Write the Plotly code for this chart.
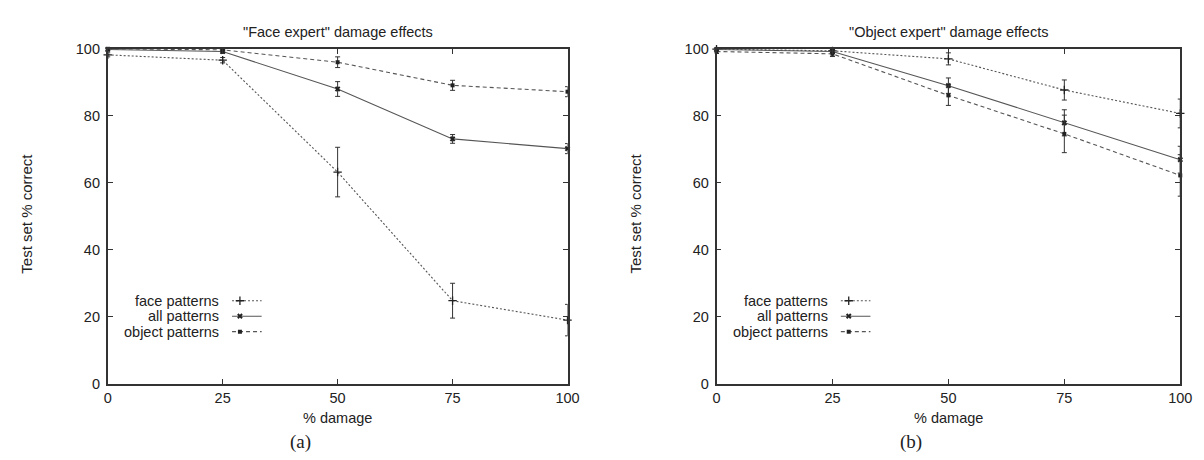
import plotly.graph_objects as go

# ---------------- data ----------------
damage = [0, 25, 50, 75, 100]
x_ticks = [0, 25, 50, 75, 100]
y_ticks = [0, 20, 40, 60, 80, 100]

series_names = ["face patterns", "all patterns", "object patterns"]

# "Face expert" damage effects
face_a = [98.2, 96.6, 63.2, 24.8, 19.0]
face_a_err = [0.6, 0.8, 7.4, 5.2, 4.7]
all_a = [99.8, 99.2, 88.0, 73.1, 70.2]
all_a_err = [0.3, 0.5, 2.2, 1.3, 1.5]
obj_a = [100.0, 99.7, 96.0, 89.1, 87.2]
obj_a_err = [0.2, 0.4, 1.6, 1.5, 1.5]

# "Object expert" damage effects
face_b = [99.9, 99.4, 97.0, 87.7, 80.7]
face_b_err = [0.3, 0.5, 1.8, 3.0, 4.3]
all_b = [99.8, 99.2, 89.0, 77.9, 66.9]
all_b_err = [0.4, 0.6, 2.3, 3.9, 4.0]
obj_b = [99.2, 98.5, 86.1, 74.6, 62.2]
obj_b_err = [0.6, 0.8, 3.0, 5.6, 6.2]

titles = ['"Face expert" damage effects', '"Object expert" damage effects']
panel_labels = ["(a)", "(b)"]

# ---------------- styling ----------------
W, H = 1204, 460
FONT = "Liberation Sans, Arial, Helvetica, sans-serif"
SERIF = "Liberation Serif, Times New Roman, serif"
INK = "#222222"
LINE = "#555555"

# plot-area pixel boxes
panels = [dict(x0=97, x1=563), dict(x0=714, x1=1184)]
Y0_PX, Y1_PX = 381, 34

styles = [
    dict(dash="2px,2px", symbol="cross-thin", size=6, mline=1.3),
    dict(dash="solid", symbol="x", size=5, mline=0),
    dict(dash="4px,3px", symbol="square", size=4, mline=0),
]

fig = go.Figure()

data_sets = [
    [(face_a, face_a_err), (all_a, all_a_err), (obj_a, obj_a_err)],
    [(face_b, face_b_err), (all_b, all_b_err), (obj_b, obj_b_err)],
]

for p, sets in enumerate(data_sets):
    xa = "x" if p == 0 else "x2"
    ya = "y" if p == 0 else "y2"
    for s, (vals, errs) in enumerate(sets):
        st = styles[s]
        fig.add_trace(go.Scatter(
            x=damage, y=vals, xaxis=xa, yaxis=ya,
            mode="lines+markers",
            line=dict(color=LINE, width=1.1, dash=st["dash"]),
            marker=dict(symbol=st["symbol"], size=st["size"], color="#222",
                        line=dict(color="#222", width=st["mline"])),
            error_y=dict(type="data", array=errs, visible=True,
                         color="#333", thickness=1, width=2.5),
            cliponaxis=False, showlegend=False, name=series_names[s],
        ))

# manual gnuplot-style legend (text right-aligned, key sample to the right)
LEG_ROWS_PX = [295, 311, 327]
LEG_TEXT_RIGHT_PX = 115
LEG_LINE_PX = (126, 156)
LEG_MARK_PX = 134

annotations = []
for p, box in enumerate(panels):
    xa = "x" if p == 0 else "x2"
    ya = "y" if p == 0 else "y2"
    sx = 100.0 / (box["x1"] - box["x0"])
    sy = 100.0 / (Y0_PX - Y1_PX)
    for s, row in enumerate(LEG_ROWS_PX):
        yv = (Y0_PX - row) * sy
        st = styles[s]
        fig.add_trace(go.Scatter(
            x=[LEG_LINE_PX[0] * sx, LEG_LINE_PX[1] * sx], y=[yv, yv],
            xaxis=xa, yaxis=ya, mode="lines",
            line=dict(color=LINE, width=1.1, dash=st["dash"]),
            showlegend=False, hoverinfo="skip"))
        fig.add_trace(go.Scatter(
            x=[LEG_MARK_PX * sx], y=[yv], xaxis=xa, yaxis=ya, mode="markers",
            marker=dict(symbol=st["symbol"], size=st["size"], color="#222",
                        line=dict(color="#222", width=st["mline"])),
            showlegend=False, hoverinfo="skip"))
        annotations.append(dict(
            x=LEG_TEXT_RIGHT_PX * sx, y=yv, xref=xa, yref=ya,
            text=series_names[s], showarrow=False, xanchor="right",
            yanchor="middle", font=dict(family=FONT, size=14.5, color=INK)))

    cx = (box["x0"] + box["x1"]) / 2.0
    # subplot title
    annotations.append(dict(
        x=cx / W, y=1 - 17 / H, xref="paper", yref="paper", text=titles[p],
        showarrow=False, xanchor="center", yanchor="middle",
        font=dict(family=FONT, size=14.5, color=INK)))
    # x-axis title
    annotations.append(dict(
        x=cx / W, y=1 - 417 / H, xref="paper", yref="paper", text="% damage",
        showarrow=False, xanchor="center", yanchor="middle",
        font=dict(family=FONT, size=14.5, color=INK)))
    # y-axis title
    annotations.append(dict(
        x=(box["x0"] - 82) / W, y=1 - 205 / H, xref="paper", yref="paper",
        text="Test set % correct", textangle=-90, showarrow=False,
        xanchor="center", yanchor="middle",
        font=dict(family=FONT, size=15, color=INK)))
    # panel label
    annotations.append(dict(
        x=(cx - 38) / W, y=1 - 441 / H, xref="paper", yref="paper",
        text=panel_labels[p], showarrow=False, xanchor="center",
        yanchor="middle", font=dict(family=SERIF, size=19, color=INK)))

axis_common = dict(
    showline=True, linecolor="#333", linewidth=1.6, mirror="ticks",
    ticks="inside", ticklen=5, tickwidth=1.2, tickcolor="#333",
    showgrid=False, zeroline=False, range=[0, 100],
    tickfont=dict(family=FONT, size=14.5, color=INK),
)

layout = dict(
    width=W, height=H, margin=dict(l=0, r=0, t=0, b=0),
    paper_bgcolor="white", plot_bgcolor="white",
    annotations=annotations, showlegend=False,
)
for p, box in enumerate(panels):
    xk = "xaxis" if p == 0 else "xaxis2"
    yk = "yaxis" if p == 0 else "yaxis2"
    layout[xk] = dict(axis_common, domain=[box["x0"] / W, box["x1"] / W],
                      tickvals=x_ticks, ticklabelstandoff=0,
                      anchor="y" if p == 0 else "y2")
    layout[yk] = dict(axis_common, domain=[1 - Y0_PX / H, 1 - Y1_PX / H],
                      tickvals=y_ticks, ticklabelstandoff=3,
                      anchor="x" if p == 0 else "x2")

fig.update_layout(**layout)
fig.write_html("out.html")
